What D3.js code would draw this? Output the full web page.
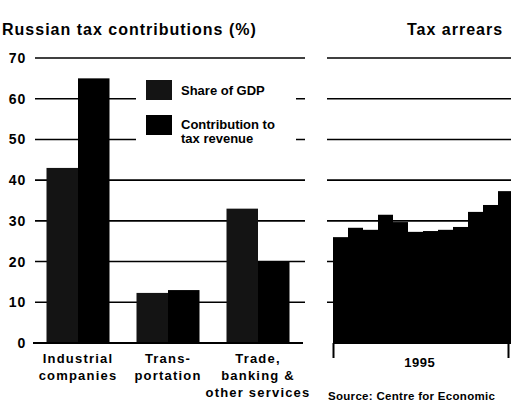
<!DOCTYPE html>
<html>
<head>
<meta charset="utf-8">
<script src="https://cdn.jsdelivr.net/npm/d3@7"></script>
<style>
  body { margin: 0; background: #fff; }
  text { font-family: "Liberation Sans", Arial, sans-serif; font-weight: bold; fill: #000; }
</style>
</head>
<body>
<div id="chart"></div>
<script>
// Data
const categories = ["Industrial companies", "Transportation", "Trade, banking & other services"];
const categoryLines = [["Industrial", "companies"], ["Trans-", "portation"], ["Trade,", "banking &", "other services"]];
const seriesNames = ["Share of GDP", "Contribution to tax revenue"];
const shareOfGdp = [43, 12.3, 33];
const taxContribution = [65, 13, 20];
const yTicks = [0, 10, 20, 30, 40, 50, 60, 70];
const arrearsMonths = ["Jan", "Feb", "Mar", "Apr", "May", "Jun", "Jul", "Aug", "Sep", "Oct", "Nov", "Dec"];
const arrearsValues = [26, 28.3, 27.8, 31.5, 29.7, 27.3, 27.5, 27.8, 28.5, 32.2, 33.9, 37.3];
const yearLabel = "1995";

const W = 511, H = 409;
const svg = d3.select("#chart").append("svg")
    .attr("width", W)
    .attr("height", H)
    .style("background-color", "white");

// Scales
const y = d3.scaleLinear().domain([0, 70]).range([343, 58]);
const x0 = d3.scaleBand().domain(categories).range([33, 303]).paddingInner(0.3).paddingOuter(0.15);
const x1 = d3.scaleBand().domain(seriesNames).range([0, x0.bandwidth()]);
const xr = d3.scaleBand().domain(arrearsMonths).range([333, 513]);
const xt = d3.scaleTime().domain([new Date(1995, 0, 1), new Date(1996, 0, 1)]).range([333, 508]);
const colors = d3.scaleOrdinal().domain(seriesNames).range(["#141414", "#000"]);

// Titles
svg.append("text").attr("x", 2).attr("y", 35).style("font-size", "16px")
    .style("letter-spacing", "1px")
    .text("Russian tax contributions (%)");
svg.append("text").attr("x", 407).attr("y", 35).style("font-size", "16px")
    .style("letter-spacing", "1px")
    .text("Tax arrears");

// Gridlines (left panel + right panel)
const grid = svg.append("g");
yTicks.filter(d => d > 0).forEach(t => {
    grid.append("line").attr("x1", 35).attr("x2", 305)
        .attr("y1", y(t)).attr("y2", y(t))
        .attr("stroke", "#000").attr("stroke-width", 1.6);
    grid.append("line").attr("x1", 327).attr("x2", W)
        .attr("y1", y(t)).attr("y2", y(t))
        .attr("stroke", "#000").attr("stroke-width", 1.6);
});

// Y axis labels
svg.append("g").selectAll("text")
    .data(yTicks)
    .join("text")
    .attr("x", 26)
    .attr("y", d => y(d) + 5)
    .attr("text-anchor", "end")
    .style("font-size", "14px")
    .style("letter-spacing", "0.8px")
    .text(d => d);

// Legend (white box hides gridlines)
svg.append("rect").attr("x", 136).attr("y", 70).attr("width", 160).attr("height", 76).attr("fill", "#fff");
const legend = svg.append("g");
seriesNames.forEach((s, i) => {
    legend.append("rect")
        .attr("x", 146).attr("y", 80 + i * 35)
        .attr("width", 26).attr("height", 20)
        .attr("fill", colors(s));
});
legend.append("text").attr("x", 181).attr("y", 95).style("font-size", "13px").text("Share of GDP");
legend.append("text").attr("x", 181).attr("y", 129).style("font-size", "13px").text("Contribution to");
legend.append("text").attr("x", 181).attr("y", 143).style("font-size", "13px").text("tax revenue");

// Grouped bars
const groups = svg.append("g").selectAll("g")
    .data(categories)
    .join("g")
    .attr("transform", d => `translate(${x0(d)},0)`);

groups.selectAll("rect")
    .data((d, i) => [
        { key: seriesNames[0], value: shareOfGdp[i] },
        { key: seriesNames[1], value: taxContribution[i] }
    ])
    .join("rect")
    .attr("x", d => x1(d.key))
    .attr("y", d => y(d.value))
    .attr("width", x1.bandwidth())
    .attr("height", d => y(0) - y(d.value))
    .attr("fill", d => colors(d.key));

// Category labels
categories.forEach((c, i) => {
    const t = svg.append("text")
        .attr("x", x0(c) + x0.bandwidth() / 2)
        .attr("y", 363)
        .attr("text-anchor", "middle")
        .style("font-size", "13px")
        .style("letter-spacing", "1.2px");
    categoryLines[i].forEach((line, j) => {
        t.append("tspan")
            .attr("x", x0(c) + x0.bandwidth() / 2)
            .attr("dy", j === 0 ? 0 : 17)
            .text(line);
    });
});

// Left baseline
svg.append("line").attr("x1", 33).attr("x2", 303)
    .attr("y1", y(0)).attr("y2", y(0))
    .attr("stroke", "#000").attr("stroke-width", 2);

// Tax arrears bars
svg.append("g").selectAll("rect")
    .data(arrearsValues)
    .join("rect")
    .attr("x", (d, i) => xr(arrearsMonths[i]))
    .attr("y", d => y(d))
    .attr("width", xr.bandwidth())
    .attr("height", d => y(0) - y(d))
    .attr("fill", "#000");

// Tax arrears axis
svg.append("g")
    .attr("transform", `translate(0,${y(0)})`)
    .call(d3.axisBottom(xt)
        .tickValues([new Date(1995, 0, 1), new Date(1996, 0, 1)])
        .tickSize(15)
        .tickFormat(""))
    .call(g => g.select(".domain").remove())
    .call(g => g.selectAll(".tick line").attr("stroke", "#000").attr("stroke-width", 2));
svg.append("line").attr("x1", 333).attr("x2", W)
    .attr("y1", y(0)).attr("y2", y(0))
    .attr("stroke", "#000").attr("stroke-width", 2);
svg.append("text")
    .attr("x", xt(new Date(1995, 6, 1)))
    .attr("y", 367)
    .attr("text-anchor", "middle")
    .style("font-size", "13px")
    .style("letter-spacing", "0.5px")
    .text(yearLabel);

// Source
svg.append("text").attr("x", 328).attr("y", 400)
    .style("font-size", "11.5px")
    .style("letter-spacing", "0.3px")
    .text("Source: Centre for Economic");
</script>
</body>
</html>
